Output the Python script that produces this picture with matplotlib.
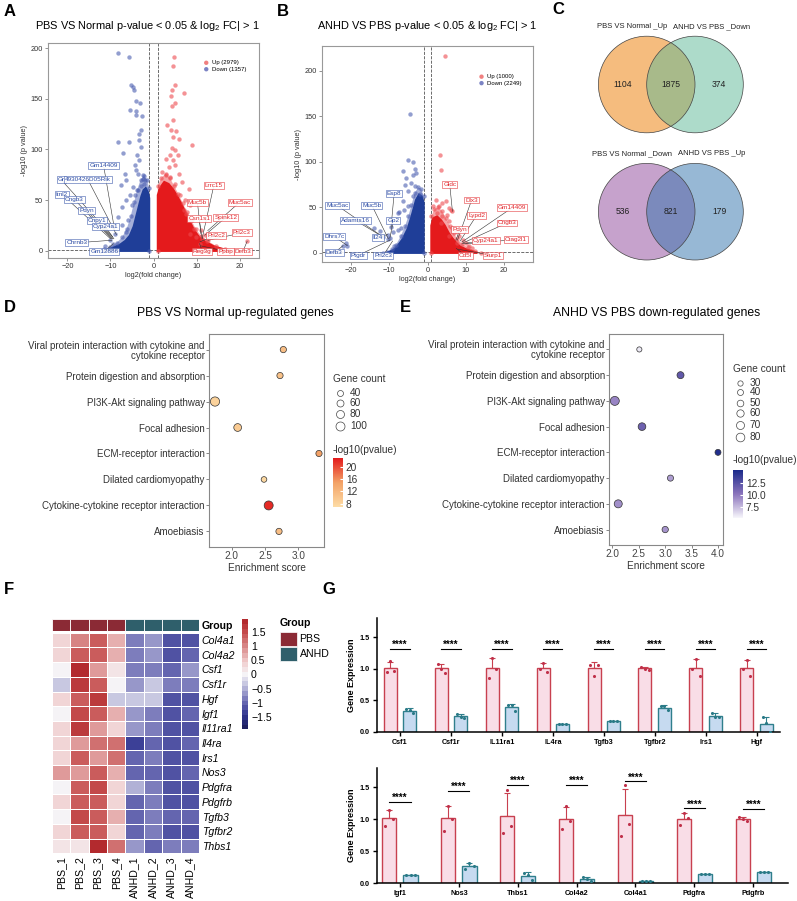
import numpy as np
import matplotlib.pyplot as plt
from matplotlib.colors import LinearSegmentedColormap, Normalize
from matplotlib.cm import ScalarMappable
from matplotlib.patches import Circle

plt.rcParams['font.family'] = ['Liberation Sans', 'DejaVu Sans']
plt.rcParams['mathtext.fontset'] = 'custom'
plt.rcParams['mathtext.rm'] = 'Liberation Sans'

# ---------------- data ----------------
# A: PBS vs Normal volcano (dense cloud envelopes + sparse points)
a_down_env_x = [-1, -1, -1.3, -1.8, -2.3, -2.8, -3.4, -4.0, -4.6, -5.5, -6.5, -7.8, -9.5, -11, -12]
a_down_env_y = [0, 52, 58, 62, 60, 54, 44, 34, 24, 15, 10, 6, 3, 1, 0]
a_down_halo_x = [-1, -1, -1.5, -2.2, -3.0, -3.8, -4.5, -5.3, -6.2, -7.2, -8.5, -10, -11.5, -12.5]
a_down_halo_y = [0, 62, 70, 74, 70, 60, 48, 34, 22, 14, 8, 4, 1.5, 0]
a_up_env_x = [1, 1, 1.5, 2.5, 3.5, 4.5, 5.5, 6.5, 7.5, 8.5, 9.5, 10.5, 12, 14, 16, 18]
a_up_env_y = [0, 55, 62, 68, 66, 61, 54, 46, 37, 28, 20, 14, 9, 4.5, 2, 0]
a_up_halo_x = [1, 1, 1.8, 2.8, 3.8, 4.8, 5.8, 6.8, 7.8, 8.8, 9.8, 11, 12.5, 14.5, 16.5, 18.5]
a_up_halo_y = [0, 64, 72, 76, 72, 64, 56, 47, 38, 30, 22, 15, 10, 5, 2, 0]
a_down_x = [-8.33, -5.68, -5.15, -4.77, -4.62, -4.17, -3.11, -5.53, -4.02, -4.02, -2.65, -8.33, -5.76,
            -7.05, -3.79, -2.88, -3.26, -3.41, -2.88, -3.26, -4.39, -4.02, -3.56, -6.67, -6.29, -2.5,
            -1.89, -7.65, -4.77, -5.38, -6.29, -7.2, -8.18, -7.42, -6.44, -8.94, -10.08, -9.32, -11.21,
            -2.2, -3.0, -2.5, -4.2, -3.7, -5.0, -6.0]
a_down_y = [195.1, 191.1, 163.9, 161.6, 159.0, 147.8, 145.8, 138.6, 137.6, 133.7, 132.7, 107.4, 107.4,
            96.6, 94.3, 102.5, 109.0, 114.9, 118.9, 90.0, 84.4, 79.5, 76.2, 75.5, 69.6, 71.3,
            69.6, 64.7, 63.1, 54.8, 50.6, 43.3, 33.5, 25.3, 18.7, 16.4, 10.5, 7.2, 4.6,
            66, 64, 75, 55, 60, 45, 30]
a_up_x = [4.70, 4.62, 5.08, 4.32, 7.05, 4.09, 5.08, 4.39, 4.47, 3.18, 4.02, 5.23, 4.55, 5.83, 8.86,
          4.32, 4.92, 3.94, 2.80, 5.68, 4.47, 3.56, 5.08, 2.05, 5.83, 3.94, 6.59, 8.26, 7.35, 8.48,
          7.50, 8.86, 9.47, 8.48, 9.77, 10.98, 11.29, 11.89, 10.76, 12.65, 21.74, 3.0, 6.2, 7.0, 5.0]
a_up_y = [191.1, 181.9, 163.9, 159.0, 155.7, 153.2, 145.8, 142.5, 128.7, 123.8, 119.5, 118.2, 112.3,
          110.7, 104.8, 101.8, 99.8, 94.3, 91.0, 94.3, 89.3, 82.8, 84.4, 77.8, 76.2, 72.9, 68.0,
          61.4, 49.9, 45.0, 36.8, 30.2, 22.0, 17.1, 13.8, 20.4, 12.2, 15.4, 7.2, 10.5, 9.5, 75, 55, 40, 66]
a_down_lab = [('Gm14409', -11.6, 84.4, -9.0, 20), ('Gr', -21.4, 70, -9.5, 14),
              ('4930426D05Rik', -15.2, 70, -8.6, 16), ('Itnl2', -21.3, 56, -10.0, 12),
              ('Cngb3', -18.4, 51, -9.8, 12), ('Pdyn', -15.5, 40, -9.6, 12),
              ('Cnpy1', -13.1, 30, -9.4, 12), ('Cyp24a1', -11.2, 24, -9.2, 12),
              ('Chrnb3', -17.8, 8, -9.7, 10.5), ('Gm12886', -11.4, -0.3, -9.3, 7)]
a_up_lab = [('Lrrc15', 14.0, 64.4, 11.3, 12.2), ('Muc5b', 10.2, 48, 11.0, 17),
            ('Muc5ac', 20.0, 48, 12.6, 20), ('Csn1s1', 10.6, 31.5, 11.3, 12.2),
            ('Spink12', 16.8, 33, 11.9, 15.4), ('Prl2c2', 14.5, 15.4, 10.8, 9),
            ('Prl2c3', 20.5, 17.7, 12.65, 10.5), ('Reg3g', 11.3, -0.3, 10.7, 7.2),
            ('Ppbp', 16.7, -0.3, 11.0, 5), ('Defb3', 20.8, -0.3, 21.74, 9.5)]
a_counts = (2979, 1357)

# B: ANHD vs PBS volcano
b_down_env_x = [-1, -1, -1.5, -2.2, -3.0, -3.9, -4.6, -5.2, -6.5, -7.8, -8.7, -10, -10.5]
b_down_env_y = [0, 55, 62, 64, 58, 44, 34, 26, 15, 7.5, 3.5, 1, 0]
b_down_halo_x = [-1, -1, -1.6, -2.4, -3.3, -4.2, -5.0, -5.8, -7.0, -8.2, -9.3, -10.5, -11.5]
b_down_halo_y = [0, 62, 70, 72, 66, 52, 40, 30, 18, 9, 4, 1.5, 0]
b_up_env_x = [1, 1, 1.5, 2.5, 3.5, 4.5, 5.5, 6.5, 7.5, 8.5, 10, 12, 13]
b_up_env_y = [0, 30, 38, 40, 36, 30, 22, 16, 11, 7, 4, 1.5, 0]
b_up_halo_x = [1, 1, 1.8, 2.8, 3.8, 4.8, 5.8, 6.8, 7.8, 9, 10.5, 12.5, 14]
b_up_halo_y = [0, 40, 48, 50, 46, 38, 30, 22, 15, 10, 6, 2, 0]
b_down_x = [-4.6, -5.1, -3.9, -6.5, -3.3, -2.9, -3.9, -5.5, -4.3, -5.8, -3.2, -5.0, -2.0, -3.9, -6.3,
            -5.0, -7.6, -6.1, -7.0, -7.8, -9.1, -9.8, -10.4, -13.9, -12.4, -11.6, -10.2, -21.3, -20.9,
            -22.0, -8.7, -7.5, -9.5]
b_down_y = [152.6, 101.5, 99.3, 90.1, 92.0, 87.6, 85.8, 82.1, 76.6, 74.8, 73.0, 67.5, 65.0, 62.0, 56.6,
            51.1, 43.8, 47.4, 27.4, 25.5, 22.6, 16.4, 20.1, 27.4, 23.7, 17.5, 15.3, 10.9, 8.0,
            8.0, 7.3, 45, 28]
b_up_x = [4.6, 3.3, 3.5, 2.3, 3.9, 4.8, 3.0, 1.5, 5.5, 6.1, 6.5, 2.6, 3.9, 5.0, 5.7, 3.5, 6.5, 7.4,
          8.3, 5.7, 9.3, 10.0, 10.9, 7.8, 11.7]
b_up_y = [216.1, 107.7, 90.5, 58.4, 54.7, 57.3, 51.1, 51.1, 49.3, 47.4, 45.6, 43.8, 40.1, 42.0, 34.7,
          32.8, 27.4, 23.7, 18.2, 18.2, 14.6, 10.9, 8.0, 10.9, 5.5]
b_down_lab = [('Muc5ac', -23.5, 51.8, -11.6, 17.5), ('Muc5b', -14.5, 52.2, -10.2, 15.3),
              ('Esp8', -8.7, 65.3, -9.5, 28), ('Adamts16', -18.7, 35.4, -11.6, 17.5),
              ('Gp2', -8.9, 35.4, -9.8, 16.4), ('Il24', -13.0, 17.2, -10.4, 20.1),
              ('Dhrs7c', -24.3, 17.9, -20.9, 8.0), ('Defb3', -24.3, 0, -22.0, 8.0),
              ('Ptgdr', -18.0, -2.6, -9.8, 14), ('Prl2c3', -11.5, -2.6, -9.1, 13)]
b_up_lab = [('Gldc', 5.8, 74.8, 6.5, 45.6), ('Dlx3', 11.5, 58, 7.8, 14), ('Gm14409', 22.0, 49.3, 9.0, 12),
            ('Lypd2', 12.8, 41.2, 8.5, 13), ('Cngb3', 20.7, 32.8, 9.3, 11), ('Pdyn', 8.4, 25.5, 7.4, 14),
            ('Cyp24a1', 15.2, 13.9, 9.0, 10), ('Ctag2l1', 23.0, 14.6, 10.0, 10),
            ('Cd5l', 9.8, -2.9, 7.5, 5), ('Slurp1', 17.0, -2.9, 8.0, 4)]
b_counts = (1000, 2249)

# C: Venn counts
venn_top_sets = ['PBS VS Normal _Up', 'ANHD VS PBS _Down']
venn_top_counts = [1104, 1875, 374]
venn_bot_sets = ['PBS VS Normal _Down', 'ANHD VS PBS _Up']
venn_bot_counts = [536, 821, 179]

# D / E: KEGG enrichment
pathways = ['Viral protein interaction with cytokine and\ncytokine receptor', 'Protein digestion and absorption',
            'PI3K-Akt signaling pathway', 'Focal adhesion', 'ECM-receptor interaction',
            'Dilated cardiomyopathy', 'Cytokine-cytokine receptor interaction', 'Amoebiasis']
d_score = [2.775, 2.725, 1.75, 2.09, 3.31, 2.485, 2.555, 2.71]
d_count = [45, 45, 105, 75, 45, 33, 100, 45]
d_logp = [11, 10.5, 8.3, 9.3, 15, 7.5, 22, 11]
e_score = [2.51, 3.29, 2.045, 2.56, 4.0, 3.10, 2.11, 3.0]
e_count = [28, 55, 84, 65, 40, 42, 70, 45]
e_logp = [5.8, 12.0, 9.6, 11.5, 14.8, 8.6, 9.2, 9.0]

# F: heatmap z-scores
hm_genes = ['Col4a1', 'Col4a2', 'Csf1', 'Csf1r', 'Hgf', 'Igf1', 'Il11ra1', 'Il4ra', 'Irs1', 'Nos3',
            'Pdgfra', 'Pdgfrb', 'Tgfb3', 'Tgfbr2', 'Thbs1']
hm_samples = ['PBS_1', 'PBS_2', 'PBS_3', 'PBS_4', 'ANHD_1', 'ANHD_2', 'ANHD_3', 'ANHD_4']
hm_groups = ['PBS'] * 4 + ['ANHD'] * 4
hm_z = [[0.4, 1.0, 1.4, 0.7, -0.9, -0.7, -1.2, -1.2],
        [0.4, 1.3, 1.3, 0.7, -0.9, -0.7, -1.2, -1.0],
        [0.05, 1.8, 0.8, 0.2, -0.9, -0.8, -1.0, -0.7],
        [-0.3, 1.6, 1.4, 0.05, -0.6, -0.3, -0.9, -0.9],
        [0.4, 1.3, 1.6, -0.3, -0.3, -0.4, -1.2, -1.2],
        [0.05, 1.5, 1.3, 0.6, -0.7, -0.9, -1.2, -1.0],
        [0.4, 1.7, 0.9, 0.3, -0.7, -0.8, -1.2, -1.1],
        [0.4, 0.9, 1.1, 1.1, -1.3, -1.0, -1.2, -1.0],
        [0.4, 1.3, 0.9, 1.1, -1.0, -0.8, -1.2, -1.2],
        [0.9, 0.9, 1.3, 0.6, -1.0, -1.0, -1.2, -1.0],
        [0.05, 1.3, 1.5, 0.3, -0.5, -0.8, -1.2, -1.2],
        [0.4, 1.3, 1.3, 0.4, -1.0, -0.8, -1.2, -1.2],
        [0.05, 1.5, 1.3, 0.6, -1.0, -0.8, -1.0, -1.0],
        [0.4, 1.3, 1.3, 0.4, -1.0, -0.8, -1.2, -1.2],
        [0.1, 0.25, 1.8, 1.1, -0.7, -1.0, -0.9, -0.9]]

# G: qPCR relative expression (3 replicates each)
g1_genes = ['Csf1', 'Csf1r', 'IL11ra1', 'IL4ra', 'Tgfb3', 'Tgfbr2', 'Irs1', 'Hgf']
g1_pbs = [[0.95, 1.12, 0.96], [1.08, 1.0, 0.93], [0.85, 1.17, 1.0], [1.0, 1.09, 0.95],
          [1.06, 0.89, 1.06], [1.03, 1.0, 0.98], [1.0, 1.16, 0.89], [1.0, 1.14, 0.88]]
g1_anhd = [[0.37, 0.34, 0.30], [0.28, 0.24, 0.22], [0.42, 0.42, 0.33], [0.13, 0.13, 0.13],
           [0.18, 0.18, 0.18], [0.41, 0.41, 0.34], [0.30, 0.23, 0.23], [0.23, 0.14, 0.0]]
g1_sig = [1.31] * 8
g2_genes = ['Igf1', 'Nos3', 'Thbs1', 'Col4a2', 'Col4a1', 'Pdgfra', 'Pdgfrb']
g2_pbs = [[0.89, 1.14, 1.0], [0.82, 1.21, 1.0], [0.78, 1.46, 0.89], [0.85, 1.2, 0.97],
          [0.73, 1.53, 0.92], [0.91, 1.09, 1.02], [1.04, 1.0, 0.97]]
g2_anhd = [[0.12, 0.13, 0.12], [0.22, 0.32, 0.26], [0.15, 0.13, 0.04], [0.09, 0.07, 0.03],
           [0.025, 0.025, 0.025], [0.135, 0.135, 0.135], [0.17, 0.17, 0.17]]
g2_sig = [1.27, 1.44, 1.54, 1.54, 1.59, 1.17, 1.16]

# ---------------- figure ----------------
W, H = 797, 901
fig = plt.figure(figsize=(W / 100, H / 100), dpi=100)


def px_axes(l, t, r, b):
    return fig.add_axes([l / W, 1 - b / H, (r - l) / W, (b - t) / H])


ov = fig.add_axes([0, 0, 1, 1])
ov.set_xlim(0, W)
ov.set_ylim(H, 0)
ov.axis('off')

for letter, x, y in [('A', 4, 12), ('B', 277, 12), ('C', 552, 10), ('D', 4, 307), ('E', 400, 307),
                     ('F', 4, 590), ('G', 322, 590)]:
    ov.text(x, y, letter, fontsize=12, fontweight='bold', va='center', ha='left')

RED, BLUE = '#E41A1C', '#1F3E98'


def volcano(ax, denv, dhalo, uenv, uhalo, dx, dy, ux, uy, dlab, ulab, xlim, ylim, ytks, counts, leg):
    ax.fill(dhalo[0], dhalo[1], color='#5A6DBA', alpha=0.55, lw=0, zorder=2)
    ax.fill(uhalo[0], uhalo[1], color='#F0585C', alpha=0.55, lw=0, zorder=2)
    ax.fill(denv[0], denv[1], color=BLUE, lw=1.5, ec=BLUE, zorder=2)
    ax.fill(uenv[0], uenv[1], color=RED, lw=1.5, ec=RED, zorder=2)
    ax.scatter(dhalo[0], dhalo[1], s=10, color='#4A5DB0', alpha=0.6, lw=0, zorder=2)
    ax.scatter(uhalo[0], uhalo[1], s=10, color='#EE4A4E', alpha=0.6, lw=0, zorder=2)
    ax.scatter(dx, dy, s=10, color='#4A5DB0', alpha=0.6, lw=0, zorder=3)
    ax.scatter(ux, uy, s=10, color='#EE4A4E', alpha=0.6, lw=0, zorder=3)
    ax.axvline(-1, color='#555555', ls='--', lw=0.6, zorder=1)
    ax.axvline(1, color='#555555', ls='--', lw=0.6, zorder=1)
    ax.axhline(-np.log10(0.05), color='#555555', ls='--', lw=0.6, zorder=1)
    for labs, c in [(dlab, '#2B4BA5'), (ulab, '#E3262B')]:
        for name, tx, ty, px, py in labs:
            ax.plot([tx, px], [ty, py], color='#333333', lw=0.4, zorder=4)
            ax.text(tx, ty, name, fontsize=4.6, color=c, ha='center', va='center', zorder=5,
                    bbox=dict(boxstyle='square,pad=0.15', fc='white', ec=c, lw=0.4, alpha=0.9))
    ax.set_xlim(*xlim)
    ax.set_ylim(*ylim)
    ax.set_xticks([-20, -10, 0, 10, 20])
    ax.set_yticks(ytks)
    ax.tick_params(labelsize=5.3, length=2, width=0.5, color='#666666', pad=1.5, labelcolor='#333333')
    for s in ax.spines.values():
        s.set_color('#999999')
        s.set_linewidth(0.8)
    ax.set_xlabel('log2(fold change)', fontsize=5.3, labelpad=1.5, color='#333333')
    ax.set_ylabel('-log10 (p value)', fontsize=5.3, labelpad=2, color='#333333')
    lx, ly = leg
    ax.scatter([lx, lx], [ly, ly - 0.03], s=10, color=['#F08080', '#7B83C4'], transform=ax.transAxes,
               lw=0, zorder=6)
    ax.text(lx + 0.025, ly, f'Up ({counts[0]})', fontsize=4.3, va='center', transform=ax.transAxes)
    ax.text(lx + 0.025, ly - 0.03, f'Down ({counts[1]})', fontsize=4.3, va='center', transform=ax.transAxes)


axA = px_axes(48, 43, 259, 258)
volcano(axA, (a_down_env_x, a_down_env_y), (a_down_halo_x, a_down_halo_y), (a_up_env_x, a_up_env_y),
        (a_up_halo_x, a_up_halo_y), a_down_x, a_down_y, a_up_x, a_up_y,
        a_down_lab, a_up_lab, (-24.5, 24.5), (-7, 205), [0, 50, 100, 150, 200], a_counts, (0.75, 0.908))
ov.text(147, 26, r'PBS VS Normal p-value < 0.05 & log$_\mathregular{2}$ FC| > 1', fontsize=7.9,
        ha='center', va='center')

axB = px_axes(322, 46, 533, 262)
volcano(axB, (b_down_env_x, b_down_env_y), (b_down_halo_x, b_down_halo_y), (b_up_env_x, b_up_env_y),
        (b_up_halo_x, b_up_halo_y), b_down_x, b_down_y, b_up_x, b_up_y,
        b_down_lab, b_up_lab, (-27.5, 27.5), (-10, 227), [0, 50, 100, 150, 200], b_counts, (0.756, 0.858))
ov.text(427, 26, r'ANHD VS PBS p-value < 0.05 & log$_\mathregular{2}$ FC| > 1', fontsize=7.9,
        ha='center', va='center')

# C: Venn diagrams
for sets, counts, cy, c1, c2 in [(venn_top_sets, venn_top_counts, 84.5, '#F5BC7E', '#5DB997'),
                                 (venn_bot_sets, venn_bot_counts, 211.7, '#C6A2CC', '#3173AD')]:
    r = 48.3
    ov.add_patch(Circle((646.7, cy), r, fc=c1, ec='none'))
    ov.add_patch(Circle((695.0, cy), r, fc=c2, ec='none', alpha=0.5))
    ov.add_patch(Circle((646.7, cy), r, fc='none', ec='#444444', lw=0.5))
    ov.add_patch(Circle((695.0, cy), r, fc='none', ec='#444444', lw=0.5))
    for x, n in zip([622.7, 671.0, 719.3], counts):
        ov.text(x, cy, str(n), fontsize=6.2, ha='center', va='center', color='#222222')
    ov.text(631.7, cy - 58, sets[0], fontsize=5.5, ha='center', va='center', color='#222222')
    ov.text(711.7, cy - 58, sets[1], fontsize=5.5, ha='center', va='center', color='#222222')


# D / E: enrichment bubble plots
def bubble(ax, score, count, logp, cmap, vmin, vmax, xlim, xticks, dia):
    y = np.arange(len(pathways))
    s = (np.array([dia(c) for c in count]) * 0.72) ** 2
    ax.scatter(score, y, s=s, c=logp, cmap=cmap, vmin=vmin, vmax=vmax, edgecolors='#333333',
               linewidths=0.5, zorder=3)
    ax.set_ylim(len(pathways) - 0.4, -0.6)
    ax.set_xlim(*xlim)
    ax.set_yticks(y)
    ax.set_yticklabels(pathways, fontsize=7.0, color='#333333', linespacing=1.0)
    ax.set_xticks(xticks)
    ax.set_xticklabels([f'{t:.1f}' for t in xticks], fontsize=7.2, color='#444444')
    ax.tick_params(length=2, width=0.5, color='#555555', pad=1)
    for sp in ax.spines.values():
        sp.set_color('#888888')
        sp.set_linewidth(0.8)
    ax.set_xlabel('Enrichment score', fontsize=7.2, labelpad=1, color='#333333')


def dia_d(c):
    return 4 + 0.05 * c


def dia_e(c):
    return 3.26 + 0.068 * c


cmap_d = LinearSegmentedColormap.from_list('d', ['#FDDCA6', '#F3A266', '#E31A1C'])
cmap_e = LinearSegmentedColormap.from_list('e', ['#F7F6FB', '#8B74BC', '#1B2A8A'])

axD = px_axes(209, 334, 324, 547)
bubble(axD, d_score, d_count, d_logp, cmap_d, 6.9, 23, (1.66, 3.385), [2.0, 2.5, 3.0], dia_d)
ov.text(235, 313, 'PBS VS Normal up-regulated genes', fontsize=8.8, ha='center', va='center')
axE = px_axes(609, 334, 723, 545)
bubble(axE, e_score, e_count, e_logp, cmap_e, 5.3, 15.1, (1.935, 4.095), [2.0, 2.5, 3.0, 3.5, 4.0], dia_e)
ov.text(657, 313, 'ANHD VS PBS down-regulated genes', fontsize=8.8, ha='center', va='center')

for x0, ty, leg_counts, leg_y, dia in [(333, 379, [40, 60, 80, 100], [393, 403, 414, 426], dia_d),
                                       (733, 369, [30, 40, 50, 60, 70, 80], [383, 392, 403, 413, 425, 437], dia_e)]:
    ov.text(x0, ty, 'Gene count', fontsize=7.3, va='center', color='#333333')
    for c, yy in zip(leg_counts, leg_y):
        ov.scatter([x0 + 7], [yy], s=(dia(c) * 0.72) ** 2, fc='white', ec='#444444', lw=0.5)
        ov.text(x0 + 17, yy, str(c), fontsize=7.3, va='center', color='#333333')

ov.text(333, 450, '-log10(pvalue)', fontsize=7.3, va='center', color='#333333')
caxD = px_axes(333, 458, 343, 507)
cbD = fig.colorbar(ScalarMappable(Normalize(6.9, 23), cmap_d), cax=caxD, ticks=[8, 12, 16, 20])
ov.text(733, 460, '-log10(pvalue)', fontsize=7.3, va='center', color='#333333')
caxE = px_axes(733, 470, 743, 518)
cbE = fig.colorbar(ScalarMappable(Normalize(5.3, 15.1), cmap_e), cax=caxE, ticks=[7.5, 10.0, 12.5])
for cb in (cbD, cbE):
    cb.outline.set_visible(False)
    cb.ax.tick_params(labelsize=7.3, length=2, color='white', direction='in', pad=2, labelcolor='#333333')

# F: heatmap
hm_cmap = LinearSegmentedColormap.from_list(
    'hm', [(0.0, '#1E2060'), (0.11, '#303590'), (0.24, '#6A6AB2'), (0.37, '#B5B5D8'), (0.5, '#F5F3F6'),
           (0.63, '#EFC8C8'), (0.76, '#D98A8A'), (0.89, '#C65050'), (1.0, '#B32A2E')], N=23)
axF = px_axes(51.7, 632.7, 199, 853.3)
mesh = axF.pcolormesh(np.array(hm_z), cmap=hm_cmap, vmin=-1.93, vmax=1.93, edgecolors='white', linewidth=0.6)
axF.set_xlim(0, len(hm_samples))
axF.set_ylim(len(hm_genes), 0)
axF.set_yticks(np.arange(len(hm_genes)) + 0.5)
axF.set_yticklabels(hm_genes, fontsize=7.6, style='italic')
axF.yaxis.tick_right()
axF.set_xticks(np.arange(len(hm_samples)) + 0.5)
axF.set_xticklabels(hm_samples, rotation=90, fontsize=7.6)
axF.tick_params(length=0, pad=2)
for sp in axF.spines.values():
    sp.set_visible(False)

grp_colors = {'PBS': '#8B2A35', 'ANHD': '#2F5F6B'}
axFg = px_axes(51.7, 619.3, 199, 630.7)
for i, g in enumerate(hm_groups):
    axFg.bar(i + 0.5, 1, width=1, color=grp_colors[g], edgecolor='white', linewidth=0.6)
axFg.set_xlim(0, len(hm_samples))
axFg.set_ylim(0, 1)
axFg.set_xticks([])
axFg.set_yticks([0.5])
axFg.set_yticklabels(['Group'], fontsize=7.6, fontweight='bold')
axFg.yaxis.tick_right()
axFg.tick_params(length=0, pad=2)
for sp in axFg.spines.values():
    sp.set_visible(False)

caxF = px_axes(241.7, 619.3, 248.3, 729.3)
cbF = fig.colorbar(mesh, cax=caxF, ticks=[1.5, 1, 0.5, 0, -0.5, -1, -1.5])
cbF.ax.set_yticklabels(['1.5', '1', '0.5', '0', '\u22120.5', '\u22121', '\u22121.5'])
cbF.outline.set_visible(False)
cbF.ax.tick_params(labelsize=7.6, length=0, pad=2)

ov.text(280, 623, 'Group', fontsize=7.6, fontweight='bold', va='center')
for i, (g, yy) in enumerate([('PBS', 631.7), ('ANHD', 646.7)]):
    ov.add_patch(plt.Rectangle((280, yy), 16.7, 14.5, fc=grp_colors[g], ec='white', lw=0.5))
    ov.text(299.5, yy + 7.2, g, fontsize=7.6, va='center')

# G: bar charts
PBS_FILL, PBS_EDGE, PBS_DOT = '#F9DDE7', '#C8404F', '#C0304A'
ANHD_FILL, ANHD_EDGE, ANHD_DOT = '#C6DAF0', '#2F7F8C', '#2A7A87'


def bars(ax, genes, pbs, anhd, sig, xlim, width, off):
    x = np.arange(len(genes))
    jit = [-0.07, 0.0, 0.07]
    for grp, sign, fill, edge, dot in [(pbs, -1, PBS_FILL, PBS_EDGE, PBS_DOT),
                                        (anhd, 1, ANHD_FILL, ANHD_EDGE, ANHD_DOT)]:
        arr = np.array(grp)
        m = arr.mean(axis=1)
        sd = arr.std(axis=1, ddof=1)
        xs = x + sign * off
        ax.errorbar(xs, m, yerr=[np.zeros_like(sd), sd], fmt='none', ecolor=edge, elinewidth=0.8,
                    capsize=2, capthick=0.8, zorder=1)
        ax.bar(xs, m, width=width, color=fill, edgecolor=edge, linewidth=1, zorder=2)
        for j in range(3):
            ax.scatter(xs + jit[j], arr[:, j], s=5, color=dot, lw=0, zorder=3)
    for i, sy in enumerate(sig):
        ax.plot([i - off, i + off], [sy, sy], color='black', lw=0.8)
        ax.text(i, sy - 0.02, '****', ha='center', va='bottom', fontsize=7, fontweight='bold')
    ax.set_xlim(*xlim)
    ax.set_ylim(0, 1.8)
    ax.set_yticks([0.0, 0.5, 1.0, 1.5])
    ax.set_yticklabels(['0.0', '0.5', '1.0', '1.5'], fontweight='bold', fontsize=5.2)
    ax.set_xticks(x)
    ax.set_xticklabels(genes, fontweight='bold', fontsize=5.2)
    ax.tick_params(length=3, width=1, pad=2)
    ax.spines['top'].set_visible(False)
    ax.spines['right'].set_visible(False)
    ax.spines['left'].set_linewidth(1.1)
    ax.spines['bottom'].set_linewidth(1.1)
    ax.set_ylabel('Gene Expression', fontsize=6.5, fontweight='bold', labelpad=3)


axG1 = px_axes(377, 618, 780, 732)
bars(axG1, g1_genes, g1_pbs, g1_anhd, g1_sig, (-0.45, 7.46), 0.255, 0.19)
axG2 = px_axes(377, 768, 788, 883)
bars(axG2, g2_genes, g2_pbs, g2_anhd, g2_sig, (-0.39, 6.59), 0.24, 0.18)

for (dx, tx, lab), (ex, etx, elab), yy in [((543, 555, 'PBS'), (607, 620, 'ANHD'), 627.5),
                                           ((521, 533, 'Control'), (593, 605, 'ANHD'), 775)]:
    ov.scatter([dx], [yy], s=5, color=PBS_DOT, lw=0)
    ov.text(tx, yy, lab, fontsize=5.4, fontweight='bold', va='center')
    ov.scatter([ex], [yy], s=5, color=ANHD_DOT, lw=0)
    ov.text(etx, yy, elab, fontsize=5.4, fontweight='bold', va='center')

fig.savefig('out.png', dpi=100)
